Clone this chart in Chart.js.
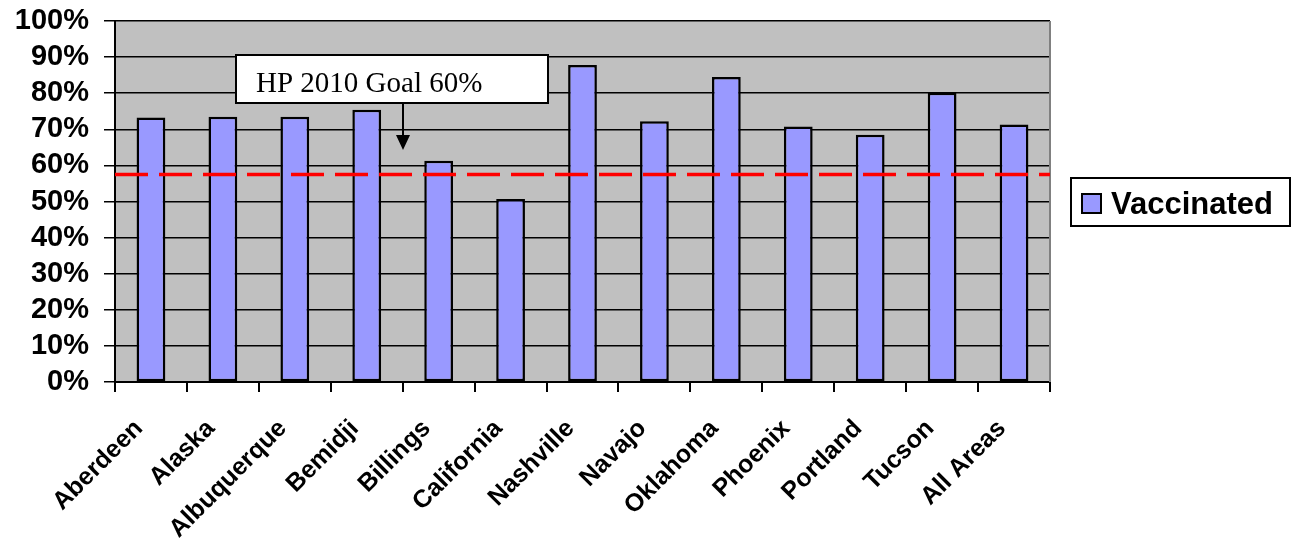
<!DOCTYPE html>
<html>
<head>
<meta charset="utf-8">
<script src="https://cdn.jsdelivr.net/npm/chart.js@4/dist/chart.umd.min.js"></script>
<style>
  html, body { margin: 0; padding: 0; background: #ffffff; }
  #wrap { width: 1296px; height: 541px; position: relative; }
</style>
</head>
<body>
<div id="wrap"><canvas id="c"></canvas></div>
<script>
const categories = ["Aberdeen", "Alaska", "Albuquerque", "Bemidji", "Billings", "California",
  "Nashville", "Navajo", "Oklahoma", "Phoenix", "Portland", "Tucson", "All Areas"];
const vaccinated = [73.3, 73.5, 73.5, 75.4, 61.3, 50.7, 87.8, 72.2, 84.5, 70.8, 68.5, 80.1, 71.3];
const seriesName = "Vaccinated";
const goalValue = 57.5;
const goalLabel = "HP 2010 Goal 60%";
const yTicks = [0, 10, 20, 30, 40, 50, 60, 70, 80, 90, 100];

const SANS = '"Liberation Sans", Arial, sans-serif';
const SERIF = '"Liberation Serif", "Times New Roman", serif';

const decor = {
  id: 'decor',
  beforeDraw(chart) {
    const {ctx, chartArea: a} = chart;
    ctx.save();
    ctx.fillStyle = '#c0c0c0';
    ctx.fillRect(a.left, a.top, a.right - a.left, a.bottom - a.top);
    ctx.restore();
  },
  afterDatasetsDraw(chart) {
    const {ctx, chartArea: a, scales} = chart;
    const y = scales.y;
    ctx.save();
    // right border
    ctx.strokeStyle = '#808080';
    ctx.lineWidth = 2;
    ctx.beginPath();
    ctx.moveTo(a.right, a.top);
    ctx.lineTo(a.right, a.bottom);
    ctx.stroke();
    // goal line
    const gy = y.getPixelForValue(goalValue);
    ctx.strokeStyle = '#ff0000';
    ctx.lineWidth = 3.5;
    ctx.setLineDash([33, 11]);
    ctx.beginPath();
    ctx.moveTo(a.left, gy);
    ctx.lineTo(a.right, gy);
    ctx.stroke();
    ctx.setLineDash([]);
    // annotation box
    const bx = 236, by = 55, bw = 312, bh = 48;
    ctx.fillStyle = '#ffffff';
    ctx.fillRect(bx, by, bw, bh);
    ctx.strokeStyle = '#000000';
    ctx.lineWidth = 2;
    ctx.strokeRect(bx, by, bw, bh);
    ctx.fillStyle = '#000000';
    ctx.font = '29px ' + SERIF;
    ctx.textAlign = 'left';
    ctx.textBaseline = 'alphabetic';
    ctx.fillText(goalLabel, 256, 92);
    // arrow
    const ax = 403;
    ctx.lineWidth = 2;
    ctx.beginPath();
    ctx.moveTo(ax, by + bh);
    ctx.lineTo(ax, 137);
    ctx.stroke();
    ctx.beginPath();
    ctx.moveTo(ax - 7, 135);
    ctx.lineTo(ax + 7, 135);
    ctx.lineTo(ax, 150);
    ctx.closePath();
    ctx.fill();
    ctx.restore();
  },
  afterDraw(chart) {
    const {ctx} = chart;
    ctx.save();
    ctx.fillStyle = '#ffffff';
    ctx.fillRect(1071, 178, 219, 48);
    ctx.strokeStyle = '#000000';
    ctx.lineWidth = 2;
    ctx.strokeRect(1071, 178, 219, 48);
    ctx.fillStyle = '#9999ff';
    ctx.fillRect(1082, 194, 19, 19);
    ctx.strokeRect(1082, 194, 19, 19);
    ctx.fillStyle = '#000000';
    ctx.font = 'bold 31px ' + SANS;
    ctx.textAlign = 'left';
    ctx.textBaseline = 'alphabetic';
    ctx.fillText(seriesName, 1111, 214);
    ctx.restore();
  }
};

new Chart(document.getElementById('c'), {
  type: 'bar',
  data: {
    labels: categories,
    datasets: [{
      label: seriesName,
      data: vaccinated,
      backgroundColor: '#9999ff',
      borderColor: '#000000',
      borderWidth: 2.5,
      borderSkipped: false,
      categoryPercentage: 1.0,
      barPercentage: 0.4
    }]
  },
  options: {
    responsive: true,
    maintainAspectRatio: false,
    animation: false,
    devicePixelRatio: 1,
    layout: { padding: { left: 0, right: 246, top: 21, bottom: 0 } },
    plugins: { legend: { display: false }, tooltip: { enabled: false } },
    scales: {
      x: {
        offset: true,
        grid: { display: true, drawOnChartArea: false, drawTicks: true, tickLength: 10, color: '#000000', lineWidth: 2, offset: true },
        border: { display: true, color: '#000000', width: 2 },
        ticks: {
          autoSkip: false, minRotation: 45, maxRotation: 45,
          color: '#000000', padding: 22, labelOffset: -12,
          font: { family: SANS, size: 25, weight: 'bold' }
        },
        afterFit(scale) { scale.height = 159; scale.paddingLeft = 0; scale.paddingRight = 0; }
      },
      y: {
        min: 0, max: 100,
        afterBuildTicks(scale) { scale.ticks = yTicks.map(v => ({ value: v })); },
        grid: { color: '#000000', lineWidth: 1.5, drawTicks: true, tickLength: 11 },
        border: { display: true, color: '#000000', width: 2 },
        ticks: {
          autoSkip: false, stepSize: 10,
          color: '#000000', padding: 15,
          font: { family: SANS, size: 29, weight: 'bold' },
          callback: v => v + '%'
        },
        afterFit(scale) { scale.width = 115; scale.paddingTop = 0; scale.paddingBottom = 0; }
      }
    }
  },
  plugins: [decor]
});
</script>
</body>
</html>
